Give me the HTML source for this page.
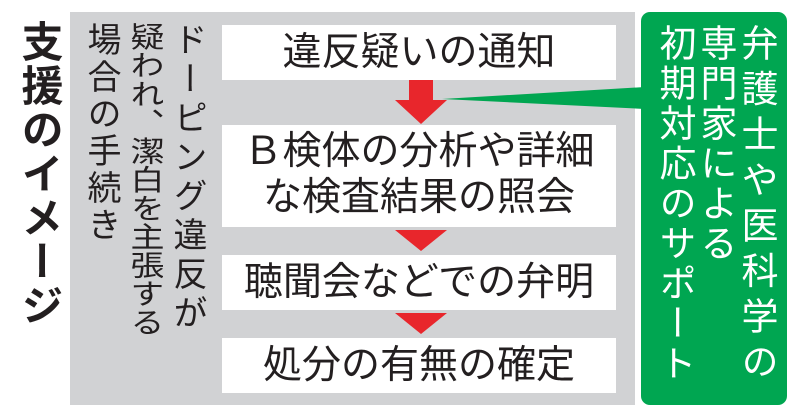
<!DOCTYPE html>
<html><head><meta charset="utf-8"><style>
body{margin:0;width:800px;height:419px;background:#fff;position:relative;overflow:hidden;font-family:"Liberation Sans","Noto Sans CJK JP",sans-serif;}
.a{position:absolute}
.v{position:absolute;writing-mode:vertical-rl;white-space:nowrap;line-height:1;}
.box{position:absolute;left:222px;width:394px;background:#fff;color:#231f20;font-size:39px;text-align:center;line-height:46px;}
</style></head><body>
<div class="v" style="left:18px;top:20px;font-size:42px;font-weight:bold;letter-spacing:2px;color:#231f20">支援のイメージ</div>
<div class="a" style="left:70px;top:12px;width:565px;height:393px;background:#d1d2d4"></div>
<div class="v" style="left:170px;top:22px;font-size:34px;letter-spacing:5px;color:#231f20">ドーピング違反が</div>
<div class="v" style="left:127px;top:22px;font-size:34px;letter-spacing:0;color:#231f20;transform:scaleY(0.84);transform-origin:top">疑われ、潔白を主張する</div>
<div class="v" style="left:84px;top:22px;font-size:34px;letter-spacing:3px;color:#231f20">場合の手続き</div>
<div class="box" style="top:25px;height:55px;line-height:55px">違反疑いの通知</div>
<div class="box" style="top:125px;height:102px;padding-top:4px;box-sizing:border-box">Ｂ検体の分析や詳細<br>な検査結果の照会</div>
<div class="box" style="top:255px;height:55px;line-height:55px">聴聞会などでの弁明</div>
<div class="box" style="top:338px;height:55px;line-height:55px">処分の有無の確定</div>
<svg class="a" style="left:0;top:0" width="800" height="419">
<rect x="409" y="80" width="24" height="21" fill="#e8262c"/>
<polygon points="395,100 447,100 421,124" fill="#e8262c"/>
<polygon points="395,230 447,230 421,251" fill="#e8262c"/>
<polygon points="395,313 447,313 421,334" fill="#e8262c"/>
<polygon points="442,99 645,87 645,109" fill="#00a651"/>
<rect x="641" y="12" width="146" height="393" rx="9" fill="#00a651"/>
</svg>
<div class="v" style="left:738px;top:24px;font-size:37px;letter-spacing:8.5px;color:#fff">弁護士や医科学の</div>
<div class="v" style="left:697px;top:24px;font-size:37px;letter-spacing:3px;color:#fff">専門家による</div>
<div class="v" style="left:656px;top:24px;font-size:37px;letter-spacing:3px;color:#fff">初期対応のサポート</div>
</body></html>
